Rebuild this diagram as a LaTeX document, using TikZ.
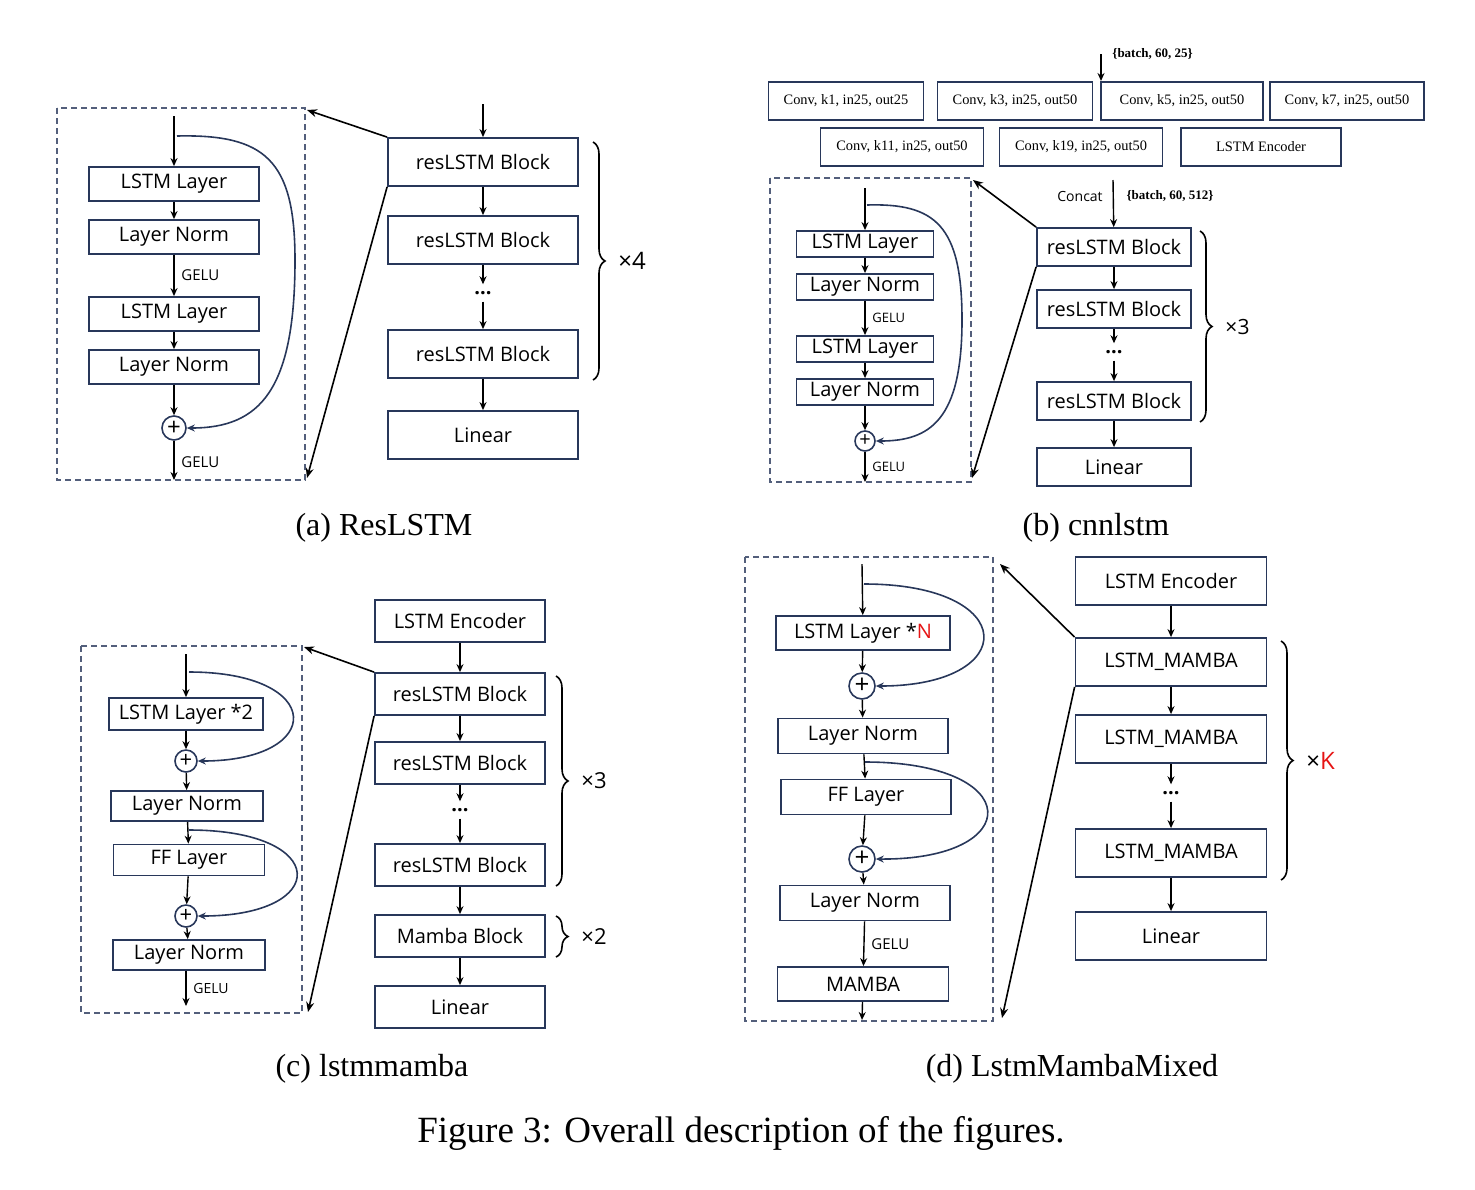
\documentclass[tikz,border=0pt]{standalone}
\usepackage{fontspec}
\setmainfont{Liberation Serif}
\newfontfamily\sff{Open Sans}
\usetikzlibrary{arrows.meta,decorations.pathreplacing}
\definecolor{navy}{RGB}{40,55,90}
\definecolor{kred}{RGB}{230,20,20}
\newcommand{\B}[7][]{\node[bx,minimum width=#5*0.5pt,minimum height=#6*0.5pt,#1] (#2) at (#3,#4) {#7};}
\begin{document}
\begin{tikzpicture}[x=0.5pt,y=-0.5pt,
 bx/.style={draw=navy,line width=0.9pt,inner sep=0pt,font=\sff},
 ar/.style={line width=0.7pt,-{Stealth[length=4pt,width=3.5pt]}},
 cv/.style={draw=navy,line width=0.8pt,-{Stealth[length=4pt,width=3.5pt]}},
 zl/.style={line width=0.8pt,-{Stealth[length=5pt,width=4pt]}},
 dsh/.style={draw=navy!80,dashed,line width=0.6pt,dash pattern=on 3pt off 2pt},
 pl/.style={circle,draw=navy,line width=0.8pt,inner sep=0pt},
 br/.style={decorate,decoration={brace,amplitude=6pt},line width=0.8pt},
 bl/.style={font=\sff\fontsize{12}{14}\selectfont},
 lb/.style={font=\sff\bfseries}]
\path (0,0) rectangle (1475,1189);
% ================= (a)
\begin{scope}[every node/.append style={font=\sff\fontsize{11}{13}\selectfont}]
\draw[dsh] (57,108) rectangle (305,480);
\B{a1}{174}{184}{170}{34}{LSTM Layer}
\B{a2}{174}{237}{170}{34}{Layer Norm}
\B{a3}{174}{314}{170}{34}{LSTM Layer}
\B{a4}{174}{367}{170}{34}{Layer Norm}
\node[pl,minimum size=12pt,font=\sff\fontsize{12}{12}\selectfont] (ap) at (174,428) {+};
\coordinate (ain) at (174,116); \coordinate (aout) at (174,480);
\draw[ar] (ain) -- (a1); \draw[ar] (a1) -- (a2); \draw[ar] (a2) -- node[right,font=\sff\fontsize{7.5}{9}\selectfont]{GELU} (a3);
\draw[ar] (a3) -- (a4); \draw[ar] (a4) -- (ap); \draw[ar] (ap) -- node[right,pos=0.55,font=\sff\fontsize{7.5}{9}\selectfont]{GELU} (aout);
\coordinate (ac) at (177,136);
\draw[cv] (ac) .. controls (265,134) and (295,160) .. (295,260) .. controls (295,390) and (260,428) .. (ap.east);
\B{ar1}{483}{162}{190}{48}{resLSTM Block}
\B{ar2}{483}{240}{190}{48}{resLSTM Block}
\B{ar3}{483}{354}{190}{48}{resLSTM Block}
\B{alin}{483}{435}{190}{48}{Linear}
\coordinate (arin) at (483,104);
\node[lb] (adots) at (483,293) {...};
\draw[ar] (arin) -- (ar1); \draw[ar] (ar1) -- (ar2); \draw[ar] (ar2) -- (adots); \draw[ar] (adots) -- (ar3); \draw[ar] (ar3) -- (alin);
\draw[br] (593,142) -- (593,380) node[midway,right=9pt,bl] {×4};
\coordinate (az1) at (307,110); \coordinate (az2) at (307,478);
\draw[zl] (ar1.north west) -- (az1); \draw[zl] (ar1.south west) -- (az2);
\end{scope}
\node[font=\fontsize{16}{19}\selectfont] at (384,528) {(a) ResLSTM};
% ================= (b)
\begin{scope}[every node/.append style={font=\fontsize{7.2}{9}\selectfont}]
\B[font=\fontsize{7.2}{9}\selectfont]{c1}{846}{101}{155}{38}{Conv, k1, in25, out25}
\B[font=\fontsize{7.2}{9}\selectfont]{c2}{1015}{101}{155}{38}{Conv, k3, in25, out50}
\B[font=\fontsize{7.2}{9}\selectfont]{c3}{1182}{101}{162}{38}{Conv, k5, in25, out50}
\B[font=\fontsize{7.2}{9}\selectfont]{c4}{1347}{101}{154}{38}{Conv, k7, in25, out50}
\B[font=\fontsize{7.2}{9}\selectfont]{c5}{902}{147}{163}{38}{Conv, k11, in25, out50}
\B[font=\fontsize{7.2}{9}\selectfont]{c6}{1081}{147}{163}{38}{Conv, k19, in25, out50}
\B[font=\fontsize{7.2}{9}\selectfont]{c7}{1261}{147}{160}{38}{LSTM Encoder}
\end{scope}
\coordinate (bin) at (1101,54);
\draw[ar] (bin) -- (1101,81) node[pos=0,right,font=\bfseries\fontsize{6.5}{8}\selectfont,xshift=2pt] {\{batch, 60, 25\}};
\begin{scope}[every node/.append style={font=\sff\fontsize{8.5}{10}\selectfont}]
\draw[dsh] (770,178) rectangle (971,482);
\B{b1}{865}{244}{137}{26}{LSTM Layer}
\B{b2}{865}{287}{137}{26}{Layer Norm}
\B{b3}{865}{349}{137}{26}{LSTM Layer}
\B{b4}{865}{392}{137}{26}{Layer Norm}
\node[pl,minimum size=10pt,font=\sff\fontsize{10}{10}\selectfont] (bp) at (865,441) {+};
\coordinate (bii) at (865,188); \coordinate (bout) at (865,482);
\draw[ar] (bii) -- (b1); \draw[ar] (b1) -- (b2); \draw[ar] (b2) -- node[right,font=\sff\fontsize{6.5}{8}\selectfont]{GELU} (b3);
\draw[ar] (b3) -- (b4); \draw[ar] (b4) -- (bp); \draw[ar] (bp) -- node[right,pos=0.5,font=\sff\fontsize{6.5}{8}\selectfont]{GELU} (bout);
\coordinate (bc) at (867,205);
\draw[cv] (bc) .. controls (935,203) and (962,225) .. (962,320) .. controls (962,420) and (930,441) .. (bp.east);
\B{br1}{1114}{247}{154}{38}{resLSTM Block}
\B{br2}{1114}{309}{154}{38}{resLSTM Block}
\B{br3}{1114}{401}{154}{38}{resLSTM Block}
\B{blin}{1114}{467}{154}{38}{Linear}
\coordinate (bcat) at (1113,180);
\draw[ar] (bcat) -- (br1);
\node[font=\sff\fontsize{7}{8}\selectfont] at (1080,196) {Concat};
\node[font=\bfseries\fontsize{6.5}{8}\selectfont] at (1170,196) {\{batch, 60, 512\}};
\node[lb] (bdots) at (1114,352) {...};
\draw[ar] (br1) -- (br2); \draw[ar] (br2) -- (bdots); \draw[ar] (bdots) -- (br3); \draw[ar] (br3) -- (blin);
\draw[br] (1200,231) -- (1200,422) node[midway,right=9pt,font=\sff\fontsize{10.5}{12}\selectfont] {×3};
\coordinate (bz1) at (973,180); \coordinate (bz2) at (972,478);
\draw[zl] (br1.north west) -- (bz1); \draw[zl] (br1.south west) -- (bz2);
\end{scope}
\node[font=\fontsize{16}{19}\selectfont] at (1096,528) {(b) cnnlstm};
% ================= (c)
\begin{scope}[every node/.append style={font=\sff\fontsize{9.5}{11}\selectfont}]
\draw[dsh] (81,646) rectangle (302,1013);
\B{d1}{186}{714}{154}{32}{LSTM Layer *2}
\node[pl,minimum size=11pt,font=\sff\fontsize{11}{11}\selectfont] (dp1) at (186,761) {+};
\B{d2}{187}{806}{152}{30}{Layer Norm}
\B{d3}{189}{860}{151}{31}{FF Layer}
\node[pl,minimum size=11pt,font=\sff\fontsize{11}{11}\selectfont] (dp2) at (186,916) {+};
\B{d4}{189}{955}{152}{30}{Layer Norm}
\coordinate (din) at (186,654); \coordinate (dout) at (186,1006);
\draw[ar] (din) -- (d1); \draw[ar] (d1) -- (dp1); \draw[ar] (dp1) -- (d2); \draw[ar] (d2) -- (d3); \draw[ar] (d3) -- (dp2); \draw[ar] (dp2) -- (d4);
\draw[ar] (d4.south -| dout) -- node[right,font=\sff\fontsize{7}{8}\selectfont]{GELU} (dout);
\coordinate (dc1) at (189,672); \coordinate (dc2) at (189,830);
\draw[cv] (dc1) .. controls (326,672) and (326,761) .. (dp1.east);
\draw[cv] (dc2) .. controls (331,830) and (331,916) .. (dp2.east);
\B{de}{460}{621}{170}{42}{LSTM Encoder}
\B{dr1}{460}{694}{170}{42}{resLSTM Block}
\B{dr2}{460}{763}{170}{42}{resLSTM Block}
\B{dr3}{460}{865}{170}{42}{resLSTM Block}
\B{dm}{460}{936}{170}{42}{Mamba Block}
\B{dlin}{460}{1007}{170}{42}{Linear}
\node[lb] (ddots) at (460,810) {...};
\draw[ar] (de) -- (dr1); \draw[ar] (dr1) -- (dr2); \draw[ar] (dr2) -- (ddots); \draw[ar] (ddots) -- (dr3); \draw[ar] (dr3) -- (dm); \draw[ar] (dm) -- (dlin);
\draw[br] (556,676) -- (556,886) node[midway,right=9pt,font=\sff\fontsize{11}{13}\selectfont] {×3};
\draw[br] (556,916) -- (556,957) node[midway,right=9pt,font=\sff\fontsize{11}{13}\selectfont] {×2};
\coordinate (dz1) at (304,647); \coordinate (dz2) at (308,1012);
\draw[zl] (dr1.north west) -- (dz1); \draw[zl] (dr1.south west) -- (dz2);
\end{scope}
\node[font=\fontsize{16}{19}\selectfont] at (372,1069) {(c) lstmmamba};
% ================= (d)
\begin{scope}[every node/.append style={font=\sff\fontsize{11}{13}\selectfont}]
\draw[dsh] (745,557) rectangle (993,1021);
\B{e1}{863}{633}{174}{34}{LSTM Layer *\textcolor{kred}{N}}
\node[pl,minimum size=13pt,font=\sff\fontsize{13}{13}\selectfont] (ep1) at (862,686) {+};
\B{e2}{863}{736}{170}{35}{Layer Norm}
\B{e3}{866}{797}{170}{35}{FF Layer}
\node[pl,minimum size=13pt,font=\sff\fontsize{13}{13}\selectfont] (ep2) at (862,859) {+};
\B{e4}{865}{903}{170}{35}{Layer Norm}
\B{e5}{863}{984}{171}{34}{MAMBA}
\coordinate (ein) at (862,564); \coordinate (eout) at (862,1020);
\draw[ar] (ein) -- (e1); \draw[ar] (e1) -- (ep1); \draw[ar] (ep1) -- (e2); \draw[ar] (e2) -- (e3); \draw[ar] (e3) -- (ep2); \draw[ar] (ep2) -- (e4);
\draw[ar] (e4) -- node[right,font=\sff\fontsize{7.5}{9}\selectfont]{GELU} (e5); \draw[ar] (e5) -- (eout);
\coordinate (ec1) at (864,584); \coordinate (ec2) at (865,762);
\draw[cv] (ec1) .. controls (1021,584) and (1021,686) .. (ep1.east);
\draw[cv] (ec2) .. controls (1026,762) and (1026,860) .. (ep2.east);
\B{ee}{1171}{581}{191}{48}{LSTM Encoder}
\B{er1}{1171}{662}{191}{48}{LSTM\_MAMBA}
\B{er2}{1171}{739}{191}{48}{LSTM\_MAMBA}
\B{er3}{1171}{853}{191}{48}{LSTM\_MAMBA}
\B{elin}{1171}{936}{191}{48}{Linear}
\node[lb] (edots) at (1171,793) {...};
\draw[ar] (ee) -- (er1); \draw[ar] (er1) -- (er2); \draw[ar] (er2) -- (edots); \draw[ar] (edots) -- (er3); \draw[ar] (er3) -- (elin);
\draw[br] (1281,641) -- (1281,880) node[midway,right=9pt,bl] {×\textcolor{kred}{K}};
\coordinate (ez1) at (1000,564); \coordinate (ez2) at (1002,1018);
\draw[zl] (er1.north west) -- (ez1); \draw[zl] (er1.south west) -- (ez2);
\end{scope}
\node[font=\fontsize{16}{19}\selectfont] at (1072,1069) {(d) LstmMambaMixed};
\node[font=\fontsize{18.5}{22}\selectfont] at (741,1133) {Figure 3: Overall description of the figures.};
\end{tikzpicture}
\end{document}
